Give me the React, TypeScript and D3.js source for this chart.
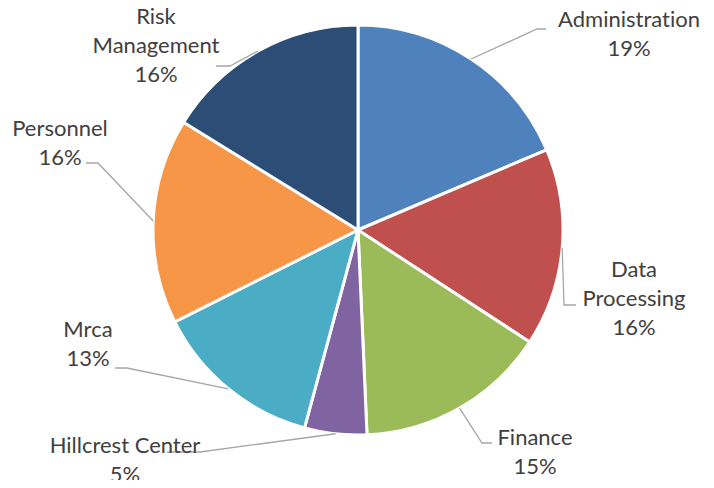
import React, { useEffect, useRef } from "react";
import * as d3 from "d3";

const categories = [
  "Administration",
  "Data Processing",
  "Finance",
  "Hillcrest Center",
  "Mrca",
  "Personnel",
  "Risk Management",
];
const values = [18.6, 15.6, 15.1, 4.9, 13.4, 16.2, 16.2];
const colors = ["#4F81BD", "#C0504D", "#9BBB59", "#8064A2", "#4BACC6", "#F79646", "#2C4D75"];

// label layout: text lines, text centre x, first baseline y, leader elbow and end
const labelLayout = [
  { lines: ["Administration"], x: 629, y: 27, elbow: [537, 29], end: [546, 29] },
  { lines: ["Data", "Processing"], x: 634, y: 277, elbow: [564, 305], end: [576, 305] },
  { lines: ["Finance"], x: 535, y: 445, elbow: [482, 443], end: [492, 443] },
  { lines: ["Hillcrest Center"], x: 125, y: 453, elbow: [200, 452], end: [167, 452] },
  { lines: ["Mrca"], x: 88, y: 337, elbow: [127, 368], end: [115, 368] },
  { lines: ["Personnel"], x: 60, y: 136, elbow: [98, 163], end: [86, 163] },
  { lines: ["Risk", "Management"], x: 156, y: 24, elbow: [230, 66], end: [216, 66] },
];

const width = 714;
const height = 488;
const cx = 358;
const cy = 230;
const radius = 205;

const PieChart = () => {
  const svgRef = useRef<SVGSVGElement>(null);

  useEffect(() => {
    const svg = d3.select(svgRef.current);
    svg.selectAll("*").remove();

    const total = d3.sum(values);
    const pie = d3.pie<number>().sort(null).value((d) => d);
    const arcs = pie(values);
    const arc = d3.arc<d3.PieArcDatum<number>>().innerRadius(0).outerRadius(radius);

    const g = svg.append("g").attr("transform", `translate(${cx},${cy})`);

    g.selectAll("path.slice")
      .data(arcs)
      .enter()
      .append("path")
      .attr("class", "slice")
      .attr("d", arc)
      .attr("fill", (d, i) => colors[i])
      .attr("stroke", "#fff")
      .attr("stroke-width", 3)
      .attr("stroke-linejoin", "round");

    // leader lines
    arcs.forEach((d, i) => {
      const mid = (d.startAngle + d.endAngle) / 2;
      const sx = cx + radius * Math.sin(mid);
      const sy = cy - radius * Math.cos(mid);
      const l = labelLayout[i];
      svg
        .append("polyline")
        .attr("points", `${sx},${sy} ${l.elbow[0]},${l.elbow[1]} ${l.end[0]},${l.end[1]}`)
        .attr("fill", "none")
        .attr("stroke", "#A6A6A6")
        .attr("stroke-width", 1.3);
    });

    // labels
    arcs.forEach((d, i) => {
      const l = labelLayout[i];
      const pct = Math.round((d.data / total) * 100) + "%";
      const text = svg
        .append("text")
        .attr("x", l.x)
        .attr("y", l.y)
        .attr("text-anchor", "middle")
        .attr("font-family", "Lato, 'Open Sans', sans-serif")
        .attr("font-size", 22)
        .style("font-variant-ligatures", "none")
        .attr("fill", "#404040");
      [...l.lines, pct].forEach((s, k) => {
        text
          .append("tspan")
          .attr("x", l.x)
          .attr("dy", k === 0 ? 0 : 29)
          .text(s);
      });
    });
  }, []);

  return <svg ref={svgRef} width={width} height={height} style={{ display: "block" }}></svg>;
};

export default function App() {
  return (
    <div style={{ margin: -8 }}>
      <PieChart />
    </div>
  );
}
